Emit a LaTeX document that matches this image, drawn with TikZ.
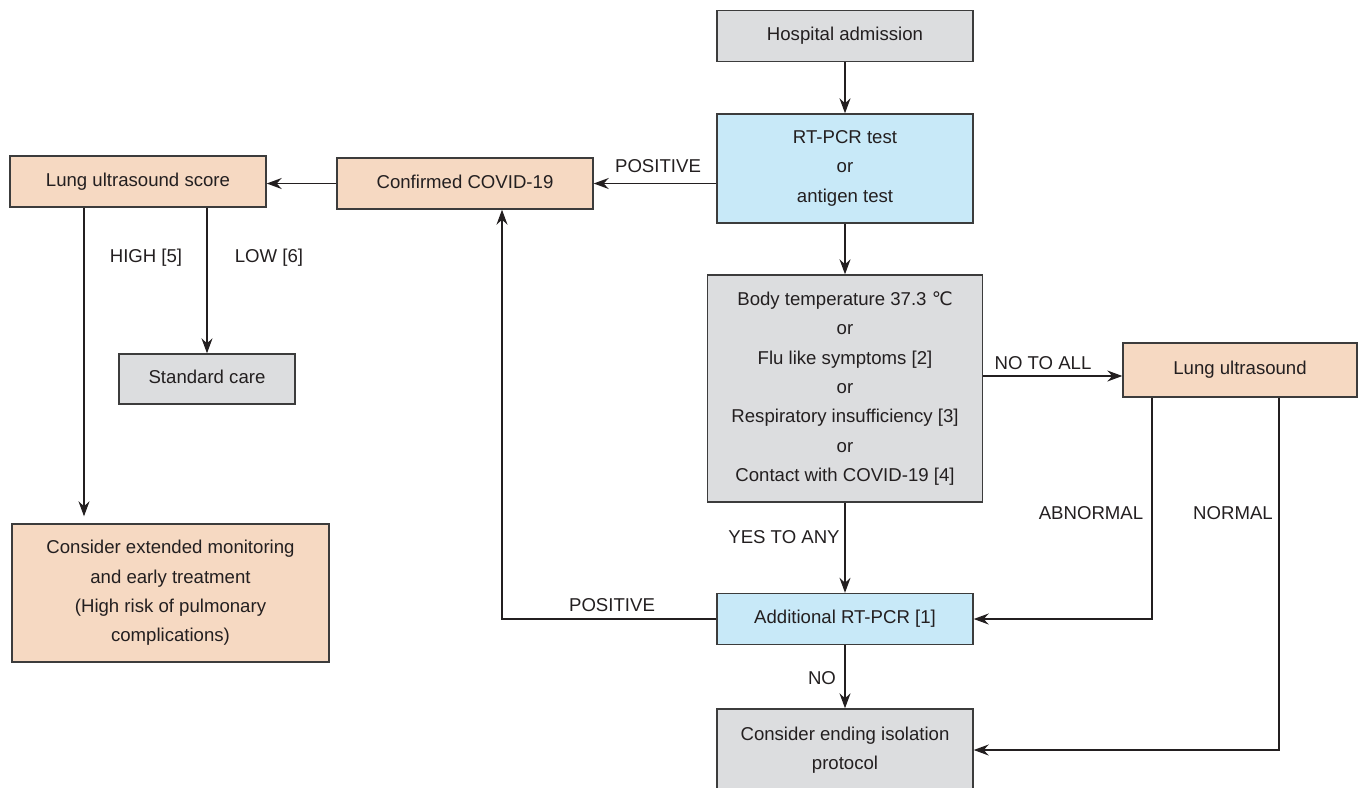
\documentclass[tikz,border=0pt]{standalone}
\usepackage{fontspec}
\setmainfont{Liberation Sans}
\newfontfamily\symfont{DejaVu Sans}
\usetikzlibrary{calc}
\usetikzlibrary{arrows.meta}
\definecolor{boxgray}{RGB}{220,221,223}
\definecolor{boxblue}{RGB}{200,233,248}
\definecolor{boxpeach}{RGB}{246,217,194}
\definecolor{edge}{RGB}{60,60,60}
\definecolor{ink}{RGB}{35,31,32}

\tikzset{
  box/.style={draw=edge, line width=0.7pt, align=center, inner sep=0pt, text=ink,
    font=\fontsize{9.3}{14.65}\selectfont,
    execute at begin node={\rule[-2pt]{0pt}{8.66pt}},
    execute at end node={\rule[-2pt]{0pt}{8.66pt}}},
  arr/.style={ink, line width=0.65pt, -{Stealth[length=7.5pt,width=5.5pt,inset=2.5pt]}},
  lbl/.style={text=ink, inner sep=0pt, font=\fontsize{9.3}{11}\selectfont},
}

\begin{document}
\begin{tikzpicture}[x=0.5pt, y=-0.5pt]
        \useasboundingbox (0,0) rectangle (1358,787);
        \coordinate (origin) at (0, 0);

        % main column
        \node (adm) [box, fill=boxgray, minimum width=128pt, minimum height=25.5pt]
            at ($(origin) + (845,36)$) {Hospital admission};
        \node (pcr) [box, fill=boxblue, minimum width=128pt, minimum height=54.5pt]
            at ($(origin) + (845,168.5)$) {RT-PCR test\\or\\antigen test};
        \node (symp) [box, fill=boxgray, minimum width=137.5pt, minimum height=113.5pt]
            at ($(origin) + (845,388.5)$)
            {Body temperature 37.3 {\symfont ℃}\\or\\Flu like symptoms [2]\\or\\Respiratory insufficiency [3]\\or\\Contact with COVID-19 [4]};
        \node (addpcr) [box, fill=boxblue, minimum width=128pt, minimum height=25.5pt]
            at ($(origin) + (845,619)$) {Additional RT-PCR [1]};
        \node (iso) [box, fill=boxgray, minimum width=128pt, minimum height=41pt]
            at ($(origin) + (845,750)$) {Consider ending isolation\\protocol};
        \node (lus) [box, fill=boxpeach, minimum width=117pt, minimum height=27pt]
            at ($(origin) + (1240,370)$) {Lung ultrasound};

        % left side
        \node (conf) [box, fill=boxpeach, minimum width=128pt, minimum height=25.5pt]
            at ($(origin) + (465,183.5)$) {Confirmed COVID-19};
        \node (score) [box, fill=boxpeach, minimum width=128pt, minimum height=25.5pt]
            at ($(origin) + (138,181.5)$) {Lung ultrasound score};
        \node (std) [box, fill=boxgray, minimum width=88pt, minimum height=25pt]
            at ($(origin) + (207,379)$) {Standard care};
        \node (ext) [box, fill=boxpeach, minimum width=158.5pt, minimum height=69pt]
            at ($(origin) + (170.5,593)$)
            {Consider extended monitoring\\and early treatment\\(High risk of pulmonary\\complications)};

        \coordinate (highx) at ($(origin) + (84,0)$);
        \coordinate (upx) at ($(origin) + (502,0)$);
        \coordinate (abnx) at ($(origin) + (1152,0)$);
        \coordinate (normx) at ($(origin) + (1279,0)$);

        % connectors
        \draw [arr] (adm) -- (pcr);
        \draw [arr] (pcr) -- (symp);
        \draw [arr] (symp) -- (addpcr);
        \draw [arr] (addpcr) -- (iso);
        \draw [arr] (pcr.west |- conf.east) -- (conf.east);
        \draw [arr] (conf.west) -- (conf.west -| score.east);
        \draw [arr] ($(symp.east) + (0,-12.5)$) -- ($(lus.west) + (0,6)$);
        \draw [arr] (addpcr.west) -| (conf.south -| upx);
        \draw [arr] (lus.south -| abnx) |- (addpcr.east);
        \draw [arr] (lus.south -| normx) |- (iso.east);
        \draw [arr] (score.south -| std.north) -- (std.north);
        \draw [arr, shorten >=3.5pt] (score.south -| highx) -- (ext.north -| highx);

        % labels
        \node (lpos1) [lbl] at ($(origin) + (658,166)$) {POSITIVE};
        \node (lpos2) [lbl] at ($(origin) + (612,605)$) {POSITIVE};
        \node (lhigh) [lbl] at ($(origin) + (146,258)$) {HIGH [5]};
        \node (llow) [lbl] at ($(origin) + (269,258)$) {LOW [6]};
        \node (lnoall) [lbl] at ($(origin) + (1043,363)$) {NO TO ALL};
        \node (lyes) [lbl] at ($(origin) + (784,537)$) {YES TO ANY};
        \node (lno) [lbl] at ($(origin) + (822,678)$) {NO};
        \node (labn) [lbl] at ($(origin) + (1091,513)$) {ABNORMAL};
        \node (lnorm) [lbl] at ($(origin) + (1233,513)$) {NORMAL};
\end{tikzpicture}
\end{document}
